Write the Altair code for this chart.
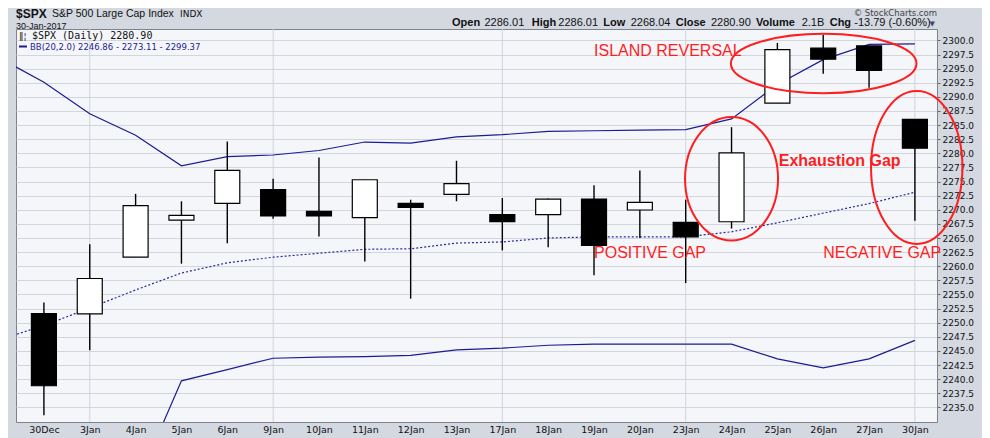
import altair as alt
import pandas as pd

# ---------------- data ----------------
dates = ["30Dec", "3Jan", "4Jan", "5Jan", "6Jan", "9Jan", "10Jan", "11Jan", "12Jan", "13Jan",
         "17Jan", "18Jan", "19Jan", "20Jan", "23Jan", "24Jan", "25Jan", "26Jan", "27Jan", "30Jan"]
open_ = [2251.61, 2251.57, 2261.60, 2268.18, 2271.14, 2273.59, 2269.72, 2268.60, 2271.14, 2272.74,
         2269.14, 2269.14, 2271.90, 2269.96, 2267.78, 2267.88, 2288.88, 2298.63, 2299.02, 2286.01]
high = [2253.58, 2263.88, 2272.82, 2271.50, 2282.10, 2275.49, 2279.27, 2275.32, 2271.78, 2278.68,
        2272.08, 2272.01, 2274.33, 2276.96, 2271.78, 2284.63, 2299.55, 2300.99, 2299.02, 2286.01]
low = [2233.62, 2245.13, 2261.60, 2260.45, 2264.06, 2268.40, 2265.27, 2260.83, 2254.25, 2271.51,
       2262.81, 2263.35, 2258.41, 2265.01, 2257.02, 2266.68, 2288.88, 2294.08, 2291.62, 2268.04]
close = [2238.83, 2257.83, 2270.75, 2269.00, 2276.98, 2268.90, 2268.90, 2275.32, 2270.44, 2274.64,
         2267.89, 2271.89, 2263.69, 2271.31, 2265.20, 2280.07, 2298.37, 2296.68, 2294.69, 2280.90]

# Bollinger bands (20, 2.0), first entry is the previous session (29 Dec)
bb_index = list(range(-1, 20))
bb_upper = [2297.0, 2292.6, 2287.0, 2283.2, 2277.8, 2279.4, 2279.7, 2280.5, 2282.0, 2281.8, 2282.9,
            2283.3, 2283.9, 2284.0, 2284.1, 2284.2, 2286.1, 2292.2, 2296.6, 2299.3, 2299.37]
bb_middle = [2246.9, 2249.5, 2252.6, 2255.8, 2258.8, 2260.6, 2261.6, 2262.3, 2263.0, 2263.1, 2264.1,
             2264.3, 2265.0, 2265.2, 2265.2, 2265.2, 2266.1, 2267.7, 2269.4, 2271.1, 2273.11]
bb_lower = [None, None, 2212.0, 2221.0, 2239.7, 2241.7, 2243.7, 2243.9, 2244.0, 2244.2, 2245.2,
            2245.5, 2246.0, 2246.2, 2246.2, 2246.2, 2246.2, 2243.6, 2242.0, 2243.6, 2246.86]

week_starts = [1, 5, 10, 14, 19]
y_ticks = [2235.0, 2237.5, 2240.0, 2242.5, 2245.0, 2247.5, 2250.0, 2252.5, 2255.0, 2257.5,
           2260.0, 2262.5, 2265.0, 2267.5, 2270.0, 2272.5, 2275.0, 2277.5, 2280.0, 2282.5,
           2285.0, 2287.5, 2290.0, 2292.5, 2295.0, 2297.5, 2300.0]

header_labels = ["Open", "High", "Low", "Close", "Volume", "Chg"]
header_values = ["2286.01", "2286.01", "2268.04", "2280.90", "2.1B", "-13.79 (-0.60%)"]

notes = ["ISLAND REVERSAL", "POSITIVE GAP", "NEGATIVE GAP", "Exhaustion Gap"]
note_x = [12.0, 12.0, 17.0, 16.03]
note_y = [2297.2, 2261.4, 2261.4, 2277.8]

ellipse_x = [17.01, 15.0, 19.04]
ellipse_y = [2295.9, 2275.5, 2277.5]

# ---------------- layout ----------------
W, H = 921, 393
XDOM = [-0.50, 19.373]
YDOM = [2232.41, 2302.02]
NAVY = "#1c1c92"
RED = "#ff1e1e"

xs = alt.Scale(domain=XDOM, nice=False, zero=False)
ys = alt.Scale(domain=YDOM, nice=False, zero=False)

candles = pd.DataFrame({"i": list(range(len(dates))), "d": dates, "o": open_, "h": high,
                        "l": low, "c": close})
candles["up"] = candles["c"] >= candles["o"]

bands = pd.DataFrame({"i": bb_index, "u": bb_upper, "m": bb_middle, "lo": bb_lower})

label_expr = "[" + ",".join("'%s'" % d for d in dates) + "][datum.value]"

x_axis = alt.Axis(values=list(range(len(dates))), labelExpr=label_expr, grid=False, ticks=False,
                  domain=False, labelFont="DejaVu Sans", labelFontSize=9.5, labelColor="#111",
                  labelPadding=2, title=None, labelFlush=False, labelOverlap=False)
y_axis = alt.Axis(orient="right", values=y_ticks, format=".1f",
                  grid=True, gridColor="#d2d5dc", gridWidth=1, tickSize=3, tickColor="#666",
                  domain=False, labelFont="DejaVu Sans", labelFontSize=9, labelColor="#111",
                  labelPadding=2, title=None, labelOverlap=False, labelFlush=False)


def X(field):
    return alt.X(field, scale=xs, axis=x_axis)


def Y(field):
    return alt.Y(field, scale=ys, axis=y_axis)


base = alt.Chart(candles)

grid_v = alt.Chart(pd.DataFrame({"i": week_starts})).mark_rule(color="#d0d3da", strokeWidth=1).encode(
    x=X("i:Q"))

upper_line = alt.Chart(bands).mark_line(color=NAVY, strokeWidth=1.2, clip=True).encode(
    x=X("i:Q"), y=Y("u:Q"))
middle_line = alt.Chart(bands).mark_line(color="#2a2aa0", strokeWidth=1.2, strokeDash=[2, 2], clip=True).encode(
    x=X("i:Q"), y=Y("m:Q"))
lower_line = alt.Chart(bands).mark_line(color=NAVY, strokeWidth=1.2, clip=True).encode(
    x=X("i:Q"), y=Y("lo:Q"))

wicks = base.mark_rule(color="black", strokeWidth=1.4).encode(
    x=X("i:Q"), y=Y("l:Q"), y2="h:Q")
bodies = base.mark_bar(size=25, stroke="black", strokeWidth=1.2).encode(
    x=X("i:Q"), y=Y("o:Q"), y2="c:Q",
    fill=alt.condition("datum.up", alt.value("white"), alt.value("black")))


def ellipse_path(rx, ry):
    b = ry / rx
    k = 0.5523
    return ("M1,0 C1,{kb} {k},{b} 0,{b} C{nk},{b} -1,{kb} -1,0 C-1,{nkb} {nk},{nb} 0,{nb} "
            "C{k},{nb} 1,{nkb} 1,0 Z").format(kb=round(k * b, 4), k=k, b=round(b, 4), nk=-k,
                                               nkb=round(-k * b, 4), nb=round(-b, 4))


ell_sizes = [(92.8, 29.7), (46.5, 61.7), (45.7, 76.5)]
ell_df = pd.DataFrame({
    "x": ellipse_x, "y": ellipse_y,
    "shape": [ellipse_path(rx, ry) for rx, ry in ell_sizes],
    "size": [(2 * rx) ** 2 for rx, ry in ell_sizes],
})
ellipses = alt.Chart(ell_df).mark_point(filled=False, stroke=RED, strokeWidth=2, opacity=1).encode(
    x=X("x:Q"), y=Y("y:Q"),
    shape=alt.Shape("shape:N", scale=None, legend=None),
    size=alt.Size("size:Q", scale=None, legend=None))

note_df = pd.DataFrame({"x": note_x, "y": note_y, "t": notes})
note_plain = alt.Chart(note_df.iloc[:3]).mark_text(
    align="left", baseline="alphabetic", font="Liberation Sans", fontSize=16, color=RED).encode(
    x=X("x:Q"), y=Y("y:Q"), text="t:N")
note_bold = alt.Chart(note_df.iloc[3:]).mark_text(
    align="left", baseline="alphabetic", font="Liberation Sans", fontSize=16, fontWeight="bold",
    color=RED).encode(x=X("x:Q"), y=Y("y:Q"), text="t:N")


def txt(s, x, y, size, font="Liberation Sans", bold=False, color="#111", align="left"):
    return alt.Chart(pd.DataFrame({"t": [s]})).mark_text(
        align=align, baseline="alphabetic", font=font, fontSize=size,
        fontWeight="bold" if bold else "normal", color=color).encode(
        x=alt.value(x), y=alt.value(y), text="t:N")


texts = [
    txt("$SPX", 0, -11.5, 12, bold=True, color="#111"),
    txt("S&P 500 Large Cap Index", 36, -12.5, 10.5, color="#111"),
    txt("INDX", 164, -12.5, 9, font="DejaVu Sans", color="#111"),
    txt("30-Jan-2017", 0, -0.5, 9, color="#111"),
    txt("\u00a9 StockCharts.com", 921, -13.5, 8.5, font="DejaVu Sans", color="#444", align="right"),
    txt("\u25bc", 913.5, -3.5, 7, font="DejaVu Sans", color="#3c4c7c"),
    txt("$SPX (Daily) 2280.90", 16, 9.5, 10, font="DejaVu Sans Mono", color="#111"),
    txt("BB(20,2.0) 2246.86 - 2273.11 - 2299.37", 14, 20.5, 8.5, font="DejaVu Sans", color=NAVY),
]
label_px = [452, 531.7, 603.3, 675.7, 756, 829.7]
value_px = [484.5, 558.3, 630.7, 711, 801.7, 854.3]
for lab, lx in zip(header_labels, label_px):
    texts.append(txt(lab, lx - 16, -3.0, 11, bold=True, color="#111"))
for val, vx in zip(header_values, value_px):
    texts.append(txt(val, vx - 16, -3.0, 11, color="#111"))

legend_dash = alt.Chart(pd.DataFrame({"a": [0]})).mark_rule(color=NAVY, strokeWidth=2).encode(
    x=alt.value(3), x2=alt.value(11), y=alt.value(17.5))
icon = alt.Chart(pd.DataFrame({"a": [0]})).mark_text(
    align="left", baseline="alphabetic", font="DejaVu Sans", fontSize=9, color="#111").encode(
    x=alt.value(3), y=alt.value(9.5), text=alt.value("\u2016\u00a6"))

chart = alt.layer(
    grid_v, upper_line, middle_line, lower_line, wicks, bodies, ellipses, note_plain, note_bold,
    legend_dash, icon, *texts
).properties(
    width=W, height=H,
    autosize="none",
    padding={"left": 8, "top": 21, "right": 45, "bottom": 16},
    background="#d3d8e1",
).configure_view(fill="#f5f6fa", stroke="#7d828c", strokeWidth=1)

chart.save("out.html", embed_options={"renderer": "svg", "actions": False})
